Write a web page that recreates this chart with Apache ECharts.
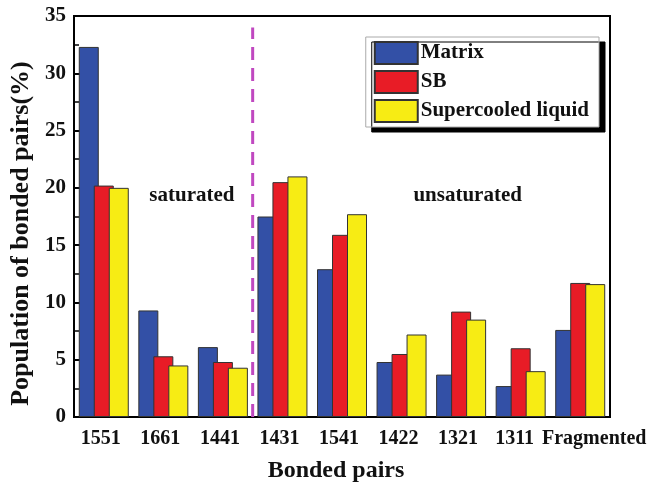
<!DOCTYPE html>
<html><head><meta charset="utf-8">
<script src="https://cdn.jsdelivr.net/npm/echarts@6/dist/echarts.min.js"></script>
<style>html,body{margin:0;padding:0;background:#fff}#c{width:654px;height:489px}</style>
</head><body><div id="c"></div>
<script>
const categories = ['1551','1661','1441','1431','1541','1422','1321','1311','Fragmented'];
const matrix = [32.3, 9.3, 6.1, 17.5, 12.9, 4.8, 3.7, 2.7, 7.6];
const sb = [20.2, 5.3, 4.8, 20.5, 15.9, 5.5, 9.2, 6.0, 11.7];
const supercooled = [20.0, 4.5, 4.3, 21.0, 17.7, 7.2, 8.5, 4.0, 11.6];
const yTicks = [0, 5, 10, 15, 20, 25, 30, 35];
const dividerX = 3;
const annotations = [['saturated', 1.98, 19.3], ['unsaturated', 6.61, 19.3]];

const font = 'Liberation Serif';
const labelPad = { '1311': [0, 12, 0, 0], 'Fragmented': [0, 0, 0, 28] };
const catData = categories.map(c => ({ value: c, textStyle: { padding: labelPad[c] || [0, 6, 0, 0] } }));
const chart = echarts.init(document.getElementById('c'));
const barStyle = c => ({ color: c, borderColor: '#333', borderWidth: 1 });
chart.setOption({
  animation: false,
  grid: { left: 74, right: 44, top: 16, bottom: 72, show: true, borderColor: '#000', borderWidth: 2 },
  legend: {
    right: 55, top: 37, orient: 'vertical', itemWidth: 43, itemHeight: 22, itemGap: 5, icon: 'rect',
    backgroundColor: '#fff', borderColor: '#aaa', borderWidth: 1, padding: [4, 10, 4, 8],
    shadowColor: '#000', shadowOffsetX: 6, shadowOffsetY: 5, shadowBlur: 0,
    textStyle: { fontFamily: font, fontWeight: 'bold', fontSize: 21, color: '#111', padding: [0, 0, 0, -2] },
    data: ['Matrix', 'SB', 'Supercooled liquid']
  },
  xAxis: [
    { type: 'category', data: catData, boundaryGap: true,
      name: 'Bonded pairs', nameLocation: 'middle', nameGap: 42,
      nameTextStyle: { fontFamily: font, fontWeight: 'bold', fontSize: 24, color: '#111', padding: [0, 12, 0, 0] },
      axisLine: { lineStyle: { color: '#000', width: 2 } },
      axisTick: { inside: true, length: 4, interval: 0, lineStyle: { color: '#000', width: 2 } },
      axisLabel: { fontFamily: font, fontWeight: 'bold', fontSize: 20, color: '#111', interval: 0, margin: 12 } },
    { type: 'category', data: categories, position: 'bottom', boundaryGap: true,
      axisLine: { show: false }, axisLabel: { show: false },
      axisTick: { inside: true, length: 5, alignWithLabel: true, interval: 0, lineStyle: { color: '#000', width: 2 } } },
    { type: 'value', min: 0, max: categories.length, show: false }
  ],
  yAxis: {
    type: 'value', min: 0, max: 35, interval: 5,
    name: 'Population of bonded pairs(%)', nameLocation: 'middle', nameGap: 40,
    nameTextStyle: { fontFamily: font, fontWeight: 'bold', fontSize: 26, color: '#111', padding: [0, 34, 0, 0] },
    axisLine: { show: true, lineStyle: { color: '#000', width: 2 } },
    axisTick: { inside: true, length: 7, lineStyle: { color: '#000', width: 2 } },
    minorTick: { show: true, splitNumber: 2, length: 5, lineStyle: { color: '#000', width: 1.5 } },
    splitLine: { show: false },
    axisLabel: { fontFamily: font, fontWeight: 'bold', fontSize: 21, color: '#111', margin: 8,
      formatter: v => yTicks.includes(v) ? String(v) : '' }
  },
  series: [
    { name: 'Matrix', type: 'bar', data: matrix, barWidth: 20, barGap: '-25%', itemStyle: barStyle('#3350a6') },
    { name: 'SB', type: 'bar', data: sb, barWidth: 20, barGap: '-25%', itemStyle: barStyle('#e81c26') },
    { name: 'Supercooled liquid', type: 'bar', data: supercooled, barWidth: 20, barGap: '-25%', itemStyle: barStyle('#f7ec14') },
    { type: 'line', xAxisIndex: 2, data: [[dividerX, 0], [dividerX, 34]], symbol: 'none',
      lineStyle: { color: '#c048c0', width: 3, type: [13, 8] }, z: 1 },
    { type: 'scatter', xAxisIndex: 2, symbolSize: 0, itemStyle: { opacity: 1 },
      data: annotations.map(a => ({ value: [a[1], a[2]], name: a[0] })),
      label: { show: true, position: 'inside', formatter: p => p.name, opacity: 1,
        fontFamily: font, fontWeight: 'bold', fontSize: 21, color: '#111' } }
  ]
});
</script></body></html>
